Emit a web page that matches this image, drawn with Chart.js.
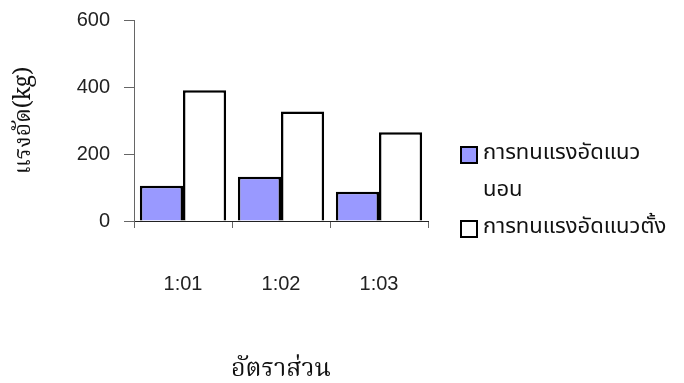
<!DOCTYPE html>
<html>
<head>
<meta charset="utf-8">
<script src="https://cdn.jsdelivr.net/npm/chart.js@4.4.1/dist/chart.umd.min.js"></script>
<style>
  html, body { margin: 0; padding: 0; background: #ffffff; }
  #wrap { width: 684px; height: 383px; position: relative; }
</style>
</head>
<body>
<div id="wrap"><canvas id="c" width="684" height="383"></canvas></div>
<script>
// Compressive strength by mixing ratio
const categories = ['1:01', '1:02', '1:03'];
const horizontalStrength = [105, 132, 87];
const verticalStrength = [390, 327, 265];
const seriesLabelLines = [['การทนแรงอัดแนว', 'นอน'], ['การทนแรงอัดแนวตั้ง']];
const yTickValues = [0, 200, 400, 600];
const xAxisTitle = 'อัตราส่วน';
const yAxisTitle = 'แรงอัด(kg)';

const sansFont = '"Liberation Sans", Arial, Helvetica, sans-serif';
const thaiSerif = '"Noto Serif Thai", "Angsana New", "DejaVu Serif", serif';
const thaiSans = '"Noto Sans Thai", Tahoma, "DejaVu Sans", sans-serif';

// Right-hand legend drawn from the datasets, with pre-split label lines
const sideLegend = {
  id: 'sideLegend',
  afterDraw(chart) {
    const ctx = chart.ctx;
    const x0 = 461, box = 16, lineGap = 37;
    let y = 155;
    ctx.save();
    ctx.font = '22px ' + thaiSans;
    ctx.textBaseline = 'middle';
    ctx.textAlign = 'left';
    chart.data.datasets.forEach((ds) => {
      ctx.fillStyle = ds.backgroundColor;
      ctx.fillRect(x0, y - box / 2, box, box);
      ctx.lineWidth = 2;
      ctx.strokeStyle = '#000000';
      ctx.strokeRect(x0, y - box / 2, box, box);
      ctx.fillStyle = '#111111';
      ds.legendLines.forEach((line, i) => {
        ctx.fillText(line, x0 + 22, y + i * lineGap);
      });
      y += ds.legendLines.length * lineGap;
    });
    ctx.restore();
  }
};

new Chart(document.getElementById('c'), {
  type: 'bar',
  data: {
    labels: categories,
    datasets: [
      {
        label: seriesLabelLines[0].join(''),
        legendLines: seriesLabelLines[0],
        data: horizontalStrength,
        backgroundColor: '#9999FF',
        borderColor: '#000000',
        borderWidth: 2.5
      },
      {
        label: seriesLabelLines[1].join(''),
        legendLines: seriesLabelLines[1],
        data: verticalStrength,
        backgroundColor: '#FFFFFF',
        borderColor: '#000000',
        borderWidth: 2.5
      }
    ]
  },
  options: {
    responsive: false,
    animation: false,
    devicePixelRatio: 1,
    categoryPercentage: 0.88,
    barPercentage: 1.0,
    layout: { padding: { top: 20, right: 256, left: 0, bottom: 0 } },
    plugins: {
      legend: { display: false },
      tooltip: { enabled: false }
    },
    scales: {
      x: {
        offset: true,
        grid: { display: true, drawOnChartArea: false, drawTicks: true, tickLength: 7, color: '#666666', offset: true },
        border: { display: true, color: '#222222', width: 1 },
        ticks: { padding: 44, color: '#222222', font: { family: sansFont, size: 20 } },
        title: { display: true, text: xAxisTitle, color: '#111111', font: { family: thaiSerif, size: 25, lineHeight: 0.9 }, padding: { top: 40, bottom: 0 } },
        afterFit(scale) { scale.height = 383 - 221; }
      },
      y: {
        min: 0,
        max: 600,
        afterBuildTicks(scale) { scale.ticks = yTickValues.map(v => ({ value: v })); },
        grid: { display: true, drawOnChartArea: false, drawTicks: true, tickLength: 10, color: '#666666' },
        border: { display: true, color: '#666666', width: 1 },
        ticks: { padding: 14, color: '#222222', font: { family: sansFont, size: 20 } },
        title: { display: true, text: yAxisTitle, color: '#111111', font: { family: thaiSerif, size: 23 }, padding: { top: 12, bottom: 0 } },
        afterFit(scale) {
          scale.width = 134;
          scale.paddingTop = 0;
          scale.paddingBottom = 0;
        }
      }
    }
  },
  plugins: [sideLegend]
});
</script>
</body>
</html>
